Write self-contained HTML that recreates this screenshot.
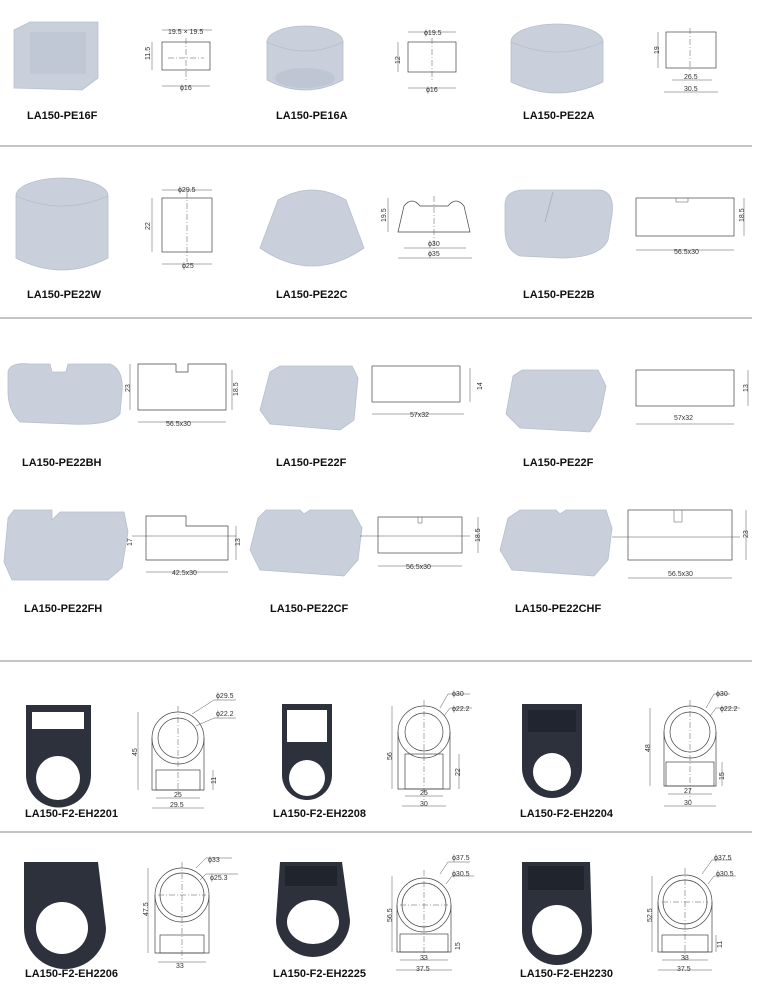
<!DOCTYPE html>
<html><head><meta charset="utf-8"><style>
html,body{margin:0;padding:0;background:#fff;}
svg{display:block;}
.l{font-family:"Liberation Sans",sans-serif;font-weight:bold;font-size:11px;fill:#111;}
.d{font-family:"Liberation Sans",sans-serif;font-size:7px;fill:#333;}
.ln{stroke:#444;stroke-width:0.7;fill:none;}
.dl{stroke:#555;stroke-width:0.5;fill:none;}
.cl{stroke:#555;stroke-width:0.5;stroke-dasharray:6 2 1 2;fill:none;}
.cap{fill:#c9d0dc;stroke:#b6bfcc;stroke-width:0.8;}
.capd{fill:#b7c0ce;}
.blk{fill:#2c313b;}
</style></head><body>
<svg width="760" height="990" viewBox="0 0 760 990" xmlns="http://www.w3.org/2000/svg">
<!-- separators -->
<g stroke="#888" stroke-width="1">
<line x1="0" y1="146" x2="752" y2="146"/>
<line x1="0" y1="318" x2="752" y2="318"/>
<line x1="0" y1="661" x2="752" y2="661"/>
<line x1="0" y1="832" x2="752" y2="832"/>
</g>

<!-- ROW 1 -->
<g>
<path class="cap" d="M14,30 L30,22 L98,22 L98,78 L82,90 L14,88 Z"/>
<rect class="capd" x="30" y="32" width="56" height="42" opacity="0.5"/>
<rect class="ln" x="162" y="42" width="48" height="28"/>
<path class="dl" d="M162,30 H212 M152,42 V70 M162,86 H210"/>
<text class="d" x="168" y="34">19.5 × 19.5</text>
<text class="d" x="150" y="60" transform="rotate(-90 150 60)">11.5</text>
<text class="d" x="180" y="90">ϕ16</text>
<path class="cl" d="M186,38 V82 M168,58 H204"/>
<text class="l" x="27" y="119">LA150-PE16F</text>

<ellipse class="cap" cx="305" cy="42" rx="38" ry="16"/>
<path class="cap" d="M267,42 V80 Q305,100 343,80 V42 Q305,60 267,42 Z"/>
<ellipse class="capd" cx="305" cy="78" rx="30" ry="10" opacity="0.6"/>
<rect class="ln" x="408" y="42" width="48" height="30"/>
<path class="dl" d="M408,32 H456 M398,42 V72 M408,88 H456"/>
<text class="d" x="424" y="35">ϕ19.5</text>
<text class="d" x="400" y="64" transform="rotate(-90 400 64)">12</text>
<text class="d" x="426" y="92">ϕ16</text>
<path class="cl" d="M432,38 V80"/>
<text class="l" x="276" y="119">LA150-PE16A</text>

<ellipse class="cap" cx="557" cy="42" rx="46" ry="18"/>
<path class="cap" d="M511,42 V82 Q557,104 603,82 V42 Q557,62 511,42 Z"/>
<rect class="ln" x="666" y="32" width="50" height="36"/>
<path class="dl" d="M658,32 V68 M672,80 H712 M664,92 H718"/>
<text class="d" x="659" y="54" transform="rotate(-90 659 54)">19</text>
<text class="d" x="684" y="79">26.5</text>
<text class="d" x="684" y="91">30.5</text>
<path class="cl" d="M690,28 V72"/>
<text class="l" x="523" y="119">LA150-PE22A</text>
</g>

<!-- ROW 2 -->
<g>
<ellipse class="cap" cx="62" cy="196" rx="46" ry="18"/>
<path class="cap" d="M16,196 V258 Q62,282 108,258 V196 Q62,216 16,196 Z"/>
<rect class="ln" x="162" y="198" width="50" height="54"/>
<path class="dl" d="M162,190 H212 M152,198 V252 M162,264 H212"/>
<text class="d" x="178" y="192">ϕ29.5</text>
<text class="d" x="150" y="230" transform="rotate(-90 150 230)">22</text>
<text class="d" x="182" y="268">ϕ25</text>
<path class="cl" d="M187,192 V262"/>
<text class="l" x="27" y="298">LA150-PE22W</text>

<path class="cap" d="M278,200 Q312,180 346,200 L364,248 Q312,284 260,248 Z"/>
<path class="ln" d="M398,232 L404,206 Q412,196 420,206 H448 Q456,196 464,206 L470,232 Z"/>
<path class="dl" d="M388,198 V232 M404,248 H466 M398,258 H472"/>
<text class="d" x="386" y="222" transform="rotate(-90 386 222)">19.5</text>
<text class="d" x="428" y="246">ϕ30</text>
<text class="d" x="428" y="256">ϕ35</text>
<path class="cl" d="M434,196 V250"/>
<text class="l" x="276" y="298">LA150-PE22C</text>

<path class="cap" d="M505,205 Q505,190 525,190 L600,190 Q615,192 612,215 L608,240 Q600,258 560,258 L520,256 Q505,250 505,230 Z"/>
<line x1="553" y1="192" x2="545" y2="222" stroke="#aab3c2"/>
<rect class="ln" x="636" y="198" width="98" height="38"/>
<path class="dl" d="M676,198 V202 H688 V198 M744,198 V236 M636,250 H734"/>
<text class="d" x="744" y="222" transform="rotate(-90 744 222)">18.5</text>
<text class="d" x="674" y="254">56.5x30</text>
<text class="l" x="523" y="298">LA150-PE22B</text>
</g>

<!-- ROW 3 -->
<g>
<path class="cap" d="M8,372 Q10,362 30,364 L50,364 L52,372 H66 L68,364 H110 Q124,370 122,392 L120,414 Q110,426 70,424 L20,422 Q8,410 8,392 Z"/>
<path class="ln" d="M138,364 H176 V372 H188 V364 H226 V410 H138 Z"/>
<path class="dl" d="M130,364 V410 M232,370 V410 M138,422 H226"/>
<text class="d" x="130" y="392" transform="rotate(-90 130 392)">23</text>
<text class="d" x="238" y="396" transform="rotate(-90 238 396)">18.5</text>
<text class="d" x="166" y="426">56.5x30</text>
<text class="l" x="22" y="466">LA150-PE22BH</text>

<path class="cap" d="M270,372 L280,366 L352,366 L358,378 L354,420 L340,430 L270,424 L260,410 Z"/>
<rect class="ln" x="372" y="366" width="88" height="36"/>
<path class="dl" d="M470,368 V402 M372,414 H464"/>
<text class="d" x="482" y="390" transform="rotate(-90 482 390)">14</text>
<text class="d" x="410" y="417">57x32</text>
<text class="l" x="276" y="466">LA150-PE22F</text>

<path class="cap" d="M513,376 L522,370 L598,370 L606,386 L600,416 L590,432 L520,428 L506,414 Z"/>
<rect class="ln" x="636" y="370" width="98" height="36"/>
<path class="dl" d="M748,370 V406 M636,424 H734"/>
<text class="d" x="748" y="392" transform="rotate(-90 748 392)">13</text>
<text class="d" x="674" y="420">57x32</text>
<text class="l" x="523" y="466">LA150-PE22F</text>
</g>

<!-- ROW 4 -->
<g>
<path class="cap" d="M8,518 L14,510 H52 V520 L60,512 H124 L128,532 L122,568 L108,580 H12 L4,562 Z"/>
<path class="ln" d="M146,516 H186 V526 H228 V560 H146 Z"/>
<path class="dl" d="M132,536 H236 M236,526 V560 M146,572 H228"/>
<text class="d" x="132" y="546" transform="rotate(-90 132 546)">17</text>
<text class="d" x="240" y="546" transform="rotate(-90 240 546)">13</text>
<text class="d" x="172" y="575">42.5x30</text>
<text class="l" x="24" y="612">LA150-PE22FH</text>

<path class="cap" d="M258,518 L266,510 H300 L304,514 L310,510 H352 L362,528 L358,560 L344,576 L260,570 L250,550 Z"/>
<rect class="ln" x="378" y="517" width="84" height="36"/>
<path class="dl" d="M418,517 V523 H422 V517 M360,536 H470 M478,517 V553 M378,566 H462"/>
<text class="d" x="480" y="542" transform="rotate(-90 480 542)">18.5</text>
<text class="d" x="406" y="569">56.5x30</text>
<text class="l" x="270" y="612">LA150-PE22CF</text>

<path class="cap" d="M508,518 L520,510 H556 L560,514 L566,510 H606 L612,528 L608,560 L594,576 L512,570 L500,550 Z"/>
<rect class="ln" x="628" y="510" width="104" height="50"/>
<path class="dl" d="M674,510 V522 H682 V510 M612,537 H740 M746,510 V560 M628,578 H732"/>
<text class="d" x="748" y="538" transform="rotate(-90 748 538)">23</text>
<text class="d" x="668" y="576">56.5x30</text>
<text class="l" x="515" y="612">LA150-PE22CHF</text>
</g>

<!-- ROW 5 -->
<g>
<path class="blk" d="M26,705 H91 V775 A32,32 0 0 1 26,775 Z"/>
<rect x="32" y="712" width="52" height="17" fill="#fff"/>
<circle cx="58" cy="778" r="22" fill="#fff"/>
<circle class="ln" cx="178" cy="738" r="26"/><circle class="ln" cx="178" cy="738" r="20"/>
<path class="ln" d="M152,738 V790 H204 V738"/>
<rect class="ln" x="156" y="770" width="44" height="20"/>
<path class="cl" d="M178,706 V795"/>
<path class="dl" d="M138,712 V790 M213,770 V790 M156,798 H200 M152,808 H204 M192,714 L214,700 H236 M196,726 L214,718 H236"/>
<text class="d" x="216" y="698">ϕ29.5</text><text class="d" x="216" y="716">ϕ22.2</text>
<text class="d" x="137" y="756" transform="rotate(-90 137 756)">45</text>
<text class="d" x="216" y="784" transform="rotate(-90 216 784)">11</text>
<text class="d" x="174" y="797">25</text><text class="d" x="170" y="807">29.5</text>
<text class="l" x="25" y="817">LA150-F2-EH2201</text>

<path class="blk" d="M282,704 H332 V775 A25,25 0 0 1 282,775 Z"/>
<rect x="287" y="710" width="40" height="32" fill="#fff"/>
<circle cx="307" cy="778" r="18" fill="#fff"/>
<circle class="ln" cx="424" cy="732" r="26"/><circle class="ln" cx="424" cy="732" r="19"/>
<path class="ln" d="M398,732 V789 H450 V732"/>
<rect class="ln" x="405" y="754" width="38" height="35"/>
<path class="cl" d="M424,700 V800"/>
<path class="dl" d="M392,706 V789 M459,754 V789 M405,796 H443 M402,806 H446 M440,708 L448,694 H470 M444,716 L450,708 H472"/>
<text class="d" x="452" y="696">ϕ30</text><text class="d" x="452" y="711">ϕ22.2</text>
<text class="d" x="392" y="760" transform="rotate(-90 392 760)">56</text>
<text class="d" x="460" y="776" transform="rotate(-90 460 776)">22</text>
<text class="d" x="420" y="795">25</text><text class="d" x="420" y="806">30</text>
<text class="l" x="273" y="817">LA150-F2-EH2208</text>

<path class="blk" d="M522,704 H582 V768 A30,30 0 0 1 522,768 Z"/>
<rect x="528" y="710" width="48" height="22" fill="#202530"/>
<circle cx="552" cy="772" r="19" fill="#fff"/>
<circle class="ln" cx="690" cy="732" r="26"/><circle class="ln" cx="690" cy="732" r="20"/>
<path class="ln" d="M664,732 V786 H716 V732"/>
<rect class="ln" x="666" y="762" width="48" height="24"/>
<path class="cl" d="M690,700 V800"/>
<path class="dl" d="M650,708 V786 M722,762 V786 M668,794 H712 M664,806 H716 M706,708 L714,694 H730 M710,716 L716,708 H740"/>
<text class="d" x="716" y="696">ϕ30</text><text class="d" x="720" y="711">ϕ22.2</text>
<text class="d" x="650" y="752" transform="rotate(-90 650 752)">48</text>
<text class="d" x="724" y="780" transform="rotate(-90 724 780)">15</text>
<text class="d" x="684" y="793">27</text><text class="d" x="684" y="805">30</text>
<text class="l" x="520" y="817">LA150-F2-EH2204</text>
</g>

<!-- ROW 6 -->
<g>
<path class="blk" d="M24,862 H98 L106,928 A38,38 0 0 1 24,928 Z"/>
<circle cx="62" cy="928" r="26" fill="#fff"/>
<circle class="ln" cx="182" cy="895" r="27"/><circle class="ln" cx="182" cy="895" r="22"/>
<path class="ln" d="M155,895 V953 H209 V895"/>
<rect class="ln" x="160" y="935" width="44" height="18"/>
<path class="cl" d="M182,862 V960 M158,895 H206"/>
<path class="dl" d="M148,868 V953 M158,962 H206 M196,868 L206,858 H232 M200,880 L206,874 H238"/>
<text class="d" x="208" y="862">ϕ33</text><text class="d" x="210" y="880">ϕ25.3</text>
<text class="d" x="148" y="916" transform="rotate(-90 148 916)">47.5</text>
<text class="d" x="176" y="968">33</text>
<text class="l" x="25" y="977">LA150-F2-EH2206</text>

<path class="blk" d="M280,862 H342 L350,920 A36,36 0 0 1 276,920 Z"/>
<rect x="285" y="866" width="52" height="20" fill="#1f242d"/>
<ellipse cx="313" cy="922" rx="26" ry="22" fill="#fff"/>
<circle class="ln" cx="424" cy="905" r="27"/><circle class="ln" cx="424" cy="905" r="22"/>
<path class="ln" d="M397,905 V952 H451 V905"/>
<rect class="ln" x="400" y="934" width="48" height="18"/>
<path class="cl" d="M424,870 V960 M400,905 H448"/>
<path class="dl" d="M392,876 V952 M400,960 H448 M396,970 H452 M440,874 L448,862 H470 M446,884 L452,876 H474"/>
<text class="d" x="452" y="860">ϕ37.5</text><text class="d" x="452" y="876">ϕ30.5</text>
<text class="d" x="392" y="922" transform="rotate(-90 392 922)">56.5</text>
<text class="d" x="460" y="950" transform="rotate(-90 460 950)">15</text>
<text class="d" x="420" y="960">33</text><text class="d" x="416" y="971">37.5</text>
<text class="l" x="273" y="977">LA150-F2-EH2225</text>

<path class="blk" d="M522,862 H590 L592,930 A35,35 0 0 1 522,930 Z"/>
<rect x="528" y="866" width="56" height="24" fill="#1f242d"/>
<circle cx="557" cy="930" r="25" fill="#fff"/>
<circle class="ln" cx="685" cy="902" r="27"/><circle class="ln" cx="685" cy="902" r="22"/>
<path class="ln" d="M658,902 V952 H712 V902"/>
<rect class="ln" x="662" y="935" width="46" height="17"/>
<path class="cl" d="M685,868 V960 M662,902 H708"/>
<path class="dl" d="M652,876 V952 M716,935 V952 M662,960 H708 M658,970 H712 M702,874 L712,860 H732 M708,884 L714,876 H736"/>
<text class="d" x="714" y="860">ϕ37.5</text><text class="d" x="716" y="876">ϕ30.5</text>
<text class="d" x="652" y="922" transform="rotate(-90 652 922)">52.5</text>
<text class="d" x="722" y="948" transform="rotate(-90 722 948)">11</text>
<text class="d" x="681" y="960">33</text><text class="d" x="677" y="971">37.5</text>
<text class="l" x="520" y="977">LA150-F2-EH2230</text>
</g>
</svg>
</body></html>
